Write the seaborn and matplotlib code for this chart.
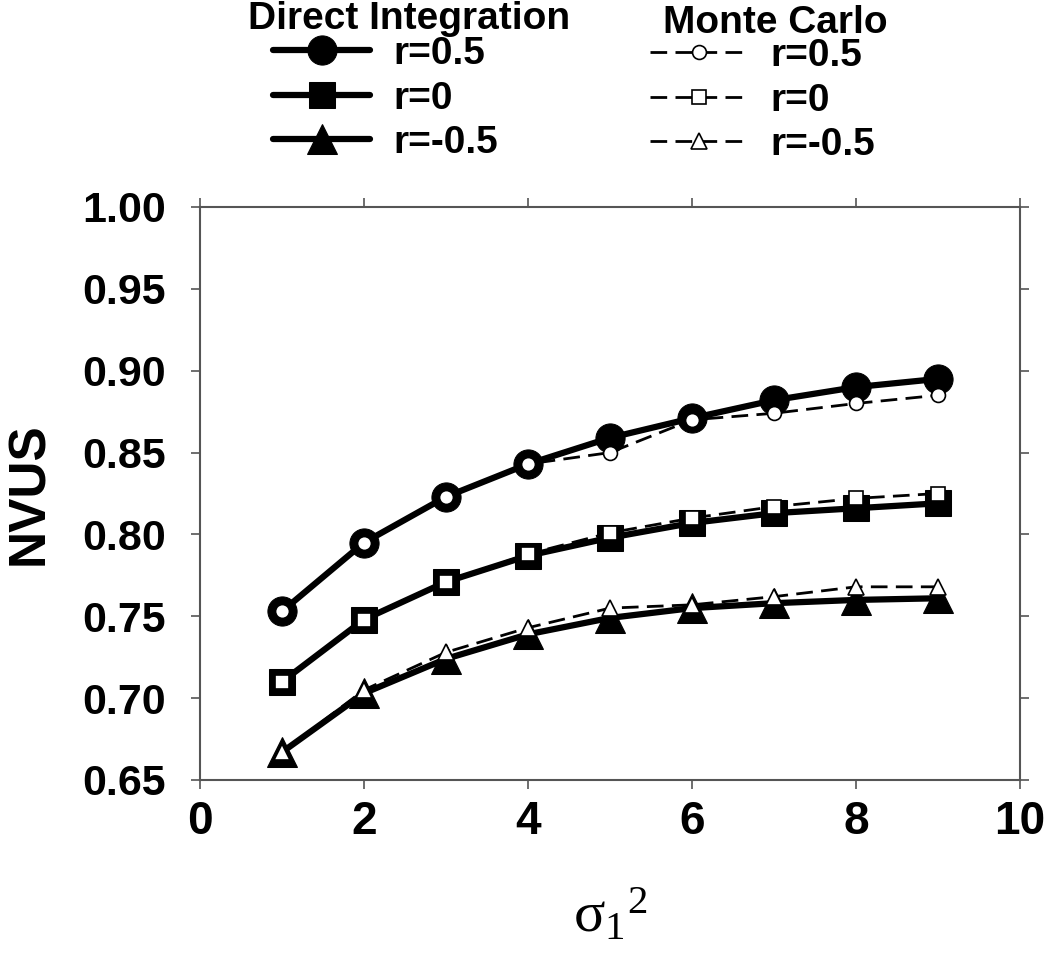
import numpy as np
import pandas as pd
import matplotlib
matplotlib.use("Agg")
import matplotlib.pyplot as plt
import seaborn as sns

# ---- data ----
sigma_sq = [1, 2, 3, 4, 5, 6, 7, 8, 9]
di_r_pos = [0.753, 0.795, 0.823, 0.843, 0.859, 0.871, 0.882, 0.890, 0.895]
di_r_zero = [0.710, 0.748, 0.771, 0.787, 0.798, 0.807, 0.813, 0.816, 0.819]
di_r_neg = [0.667, 0.703, 0.724, 0.739, 0.749, 0.755, 0.758, 0.760, 0.761]
mc_r_pos = [0.753, 0.795, 0.823, 0.843, 0.850, 0.870, 0.874, 0.880, 0.885]
mc_r_zero = [0.710, 0.748, 0.771, 0.788, 0.801, 0.810, 0.817, 0.822, 0.825]
mc_r_neg = [0.667, 0.705, 0.728, 0.743, 0.755, 0.757, 0.762, 0.768, 0.768]
series_labels = ["r=0.5", "r=0", "r=-0.5"]
group_titles = ["Direct Integration", "Monte Carlo"]
x_ticks = [0, 2, 4, 6, 8, 10]
y_ticks = [0.65, 0.70, 0.75, 0.80, 0.85, 0.90, 0.95, 1.00]

sns.set_style("ticks")
plt.rcParams["font.family"] = ["Liberation Sans", "DejaVu Sans"]
plt.rcParams["font.weight"] = "bold"
plt.rcParams["text.color"] = "black"
plt.rcParams["axes.labelcolor"] = "black"
plt.rcParams["xtick.labelcolor"] = "black"
plt.rcParams["ytick.labelcolor"] = "black"
plt.rcParams["mathtext.fontset"] = "custom"
plt.rcParams["mathtext.rm"] = "Liberation Serif:weight=normal"
plt.rcParams["mathtext.it"] = "Liberation Serif:weight=normal"
plt.rcParams["mathtext.default"] = "rm"

W, H = 1050, 963
fig = plt.figure(figsize=(W / 100, H / 100), dpi=100)
ax = fig.add_axes([200 / W, 1 - 780 / H, 820 / W, 573 / H])

di_data = [di_r_pos, di_r_zero, di_r_neg]
mc_data = [mc_r_pos, mc_r_zero, mc_r_neg]
di_markers = [("o", 21), ("s", 19), ("^", 22)]
mc_markers = [("o", 10), ("s", 9.5), ("^", 11.5)]

di_handles, mc_handles = [], []
for vals, (m, ms) in zip(di_data, di_markers):
    n0 = len(ax.lines)
    sns.lineplot(x=sigma_sq, y=vals, ax=ax, color="black", linewidth=4.5,
                 marker=m, markersize=ms, markeredgecolor="black",
                 markerfacecolor="black", solid_capstyle="round",
                 solid_joinstyle="round", errorbar=None, zorder=2)
    di_handles.append(ax.lines[n0])
for vals, (m, ms) in zip(mc_data, mc_markers):
    n0 = len(ax.lines)
    sns.lineplot(x=sigma_sq, y=vals, ax=ax, color="black", linewidth=2.0,
                 linestyle=(0, (6, 3)), marker=m, markersize=ms,
                 markeredgecolor="black", markerfacecolor="white",
                 markeredgewidth=1.2, errorbar=None, zorder=3)
    mc_handles.append(ax.lines[n0])

ax.set_xlim(0, 10)
ax.set_ylim(0.65, 1.00)
ax.set_xticks(x_ticks)
ax.set_xticklabels([str(t) for t in x_ticks], fontsize=33, fontweight="bold")
ax.set_yticks(y_ticks)
ax.set_yticklabels([f"{t:.2f}" for t in y_ticks], fontsize=31, fontweight="bold")
ax.tick_params(axis="both", which="both", direction="out", length=6.5, width=1.2,
               color="#555555", top=True, right=True, labeltop=False, labelright=False)
ax.tick_params(axis="y", pad=18)
ax.tick_params(axis="x", pad=8)
for s in ax.spines.values():
    s.set_visible(True)
    s.set_color("#555555")
    s.set_linewidth(1.5)

ax.set_ylabel("NVUS", fontsize=37, fontweight="bold", labelpad=20)
ax.set_xlabel(r"$\sigma_1{}^2$", fontsize=42, fontweight="normal", labelpad=31)

leg_kw = dict(loc="upper left", frameon=False, borderpad=0, borderaxespad=0,
              handlelength=2.5, handletextpad=0.6, labelspacing=0.22,
              prop={"size": 28, "weight": "bold"})
leg1 = fig.legend(handles=di_handles, labels=series_labels,
                  bbox_to_anchor=(273 / W, 1 - 36 / H), **leg_kw)
leg2 = fig.legend(handles=mc_handles, labels=series_labels,
                  bbox_to_anchor=(650 / W, 1 - 38 / H), **leg_kw)
for leg in (leg1, leg2):
    for t in leg.get_texts():
        t.set_color("black")

fig.text(409 / W, 1 - 19 / H, group_titles[0], ha="center", va="center",
         fontsize=28, fontweight="bold", color="black")
fig.text(775 / W, 1 - 23 / H, group_titles[1], ha="center", va="center",
         fontsize=28, fontweight="bold", color="black")

fig.savefig("out.png", dpi=100)
